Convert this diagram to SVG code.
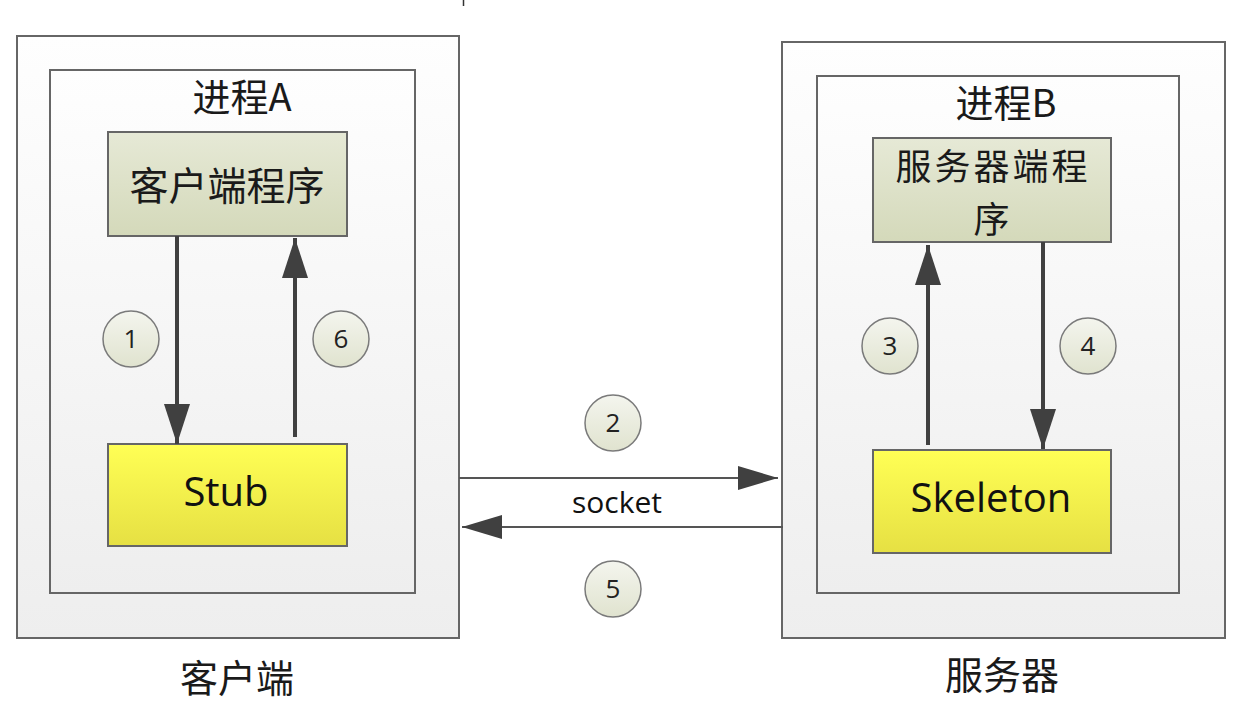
<svg xmlns="http://www.w3.org/2000/svg" width="1240" height="728" viewBox="0 0 1240 728">
<defs>
<linearGradient id="gBox" x1="0" y1="0" x2="0" y2="1"><stop offset="0" stop-color="#fefefe"/><stop offset="1" stop-color="#eeeeee"/></linearGradient>
<linearGradient id="gProg" x1="0" y1="0" x2="0" y2="1"><stop offset="0" stop-color="#e6e9d6"/><stop offset="1" stop-color="#d4d9ba"/></linearGradient>
<linearGradient id="gYel" x1="0" y1="0" x2="0" y2="1"><stop offset="0" stop-color="#ffff55"/><stop offset="1" stop-color="#e6e043"/></linearGradient>
<linearGradient id="gCir" x1="0" y1="0" x2="0" y2="1"><stop offset="0" stop-color="#f4f5ee"/><stop offset="1" stop-color="#e0e3cf"/></linearGradient>
<marker id="ah" viewBox="0 0 40 26" refX="40" refY="13" markerWidth="40" markerHeight="26" markerUnits="userSpaceOnUse" orient="auto"><path d="M0,0 L40,13 L0,26 Z" fill="#404040"/></marker>
<marker id="ahs" viewBox="0 0 40 24" refX="40" refY="12" markerWidth="40" markerHeight="24" markerUnits="userSpaceOnUse" orient="auto"><path d="M0,0 L40,12 L0,24 Z" fill="#404040"/></marker>
</defs>
<style>
.box{fill:url(#gBox);stroke:#666;stroke-width:2}
.prog{fill:url(#gProg);stroke:#666;stroke-width:2}
.yel{fill:url(#gYel);stroke:#666;stroke-width:2}
.cir{fill:url(#gCir);stroke:#7a7a7a;stroke-width:1.5}
.cjk{font-family:"Noto Sans CJK SC","Noto Sans",sans-serif;fill:#1a1a1a;text-anchor:middle;dominant-baseline:central}
.lat{font-family:"Open Sans","Noto Sans",sans-serif;fill:#111;text-anchor:middle}
.num{font-family:"Open Sans","Noto Sans",sans-serif;fill:#222;text-anchor:middle;font-size:26px}
.v{stroke:#404040;stroke-width:4;fill:none}
.h{stroke:#555;stroke-width:2.2;fill:none}
</style>
<rect width="1240" height="728" fill="#ffffff"/>
<line x1="463.5" y1="0" x2="463.5" y2="6" stroke="#333" stroke-width="1.5"/>

<g id="client">
<rect class="box" x="17" y="36" width="442" height="602"/>
<text class="cjk" x="237" y="675" font-size="38">客户端</text>
</g>
<g id="processA">
<rect class="box" x="50" y="70" width="365" height="523"/>
<text class="cjk" x="242" y="94" font-size="38">进程A</text>
</g>
<g id="clientProgram">
<rect class="prog" x="108" y="132" width="239" height="104"/>
<text class="cjk" x="227" y="183" font-size="39">客户端程序</text>
</g>
<g id="stub">
<rect class="yel" x="108" y="444" width="239" height="102"/>
<text class="lat" x="226" y="506" font-size="40">Stub</text>
</g>

<g id="server">
<rect class="box" x="782" y="42" width="443" height="596"/>
<text class="cjk" x="1002" y="672" font-size="38">服务器</text>
</g>
<g id="processB">
<rect class="box" x="817" y="76" width="362" height="517"/>
<text class="cjk" x="1006" y="100" font-size="38">进程B</text>
</g>
<g id="serverProgram">
<rect class="prog" x="873" y="138" width="238" height="104"/>
<text class="cjk" font-size="36" letter-spacing="3"><tspan x="993" y="164">服务器端程</tspan><tspan x="993" y="217">序</tspan></text>
</g>
<g id="skeleton">
<rect class="yel" x="873" y="450" width="238" height="103"/>
<text class="lat" x="991" y="512" font-size="40">Skeleton</text>
</g>

<g id="connectors">
<line class="v" x1="177" y1="236" x2="177" y2="444" marker-end="url(#ah)"/>
<line class="v" x1="295" y1="437" x2="295" y2="238" marker-end="url(#ah)"/>
<line class="v" x1="928" y1="445" x2="928" y2="245" marker-end="url(#ah)"/>
<line class="v" x1="1043" y1="242" x2="1043" y2="449" marker-end="url(#ah)"/>
<line class="h" x1="459" y1="478" x2="778" y2="478" marker-end="url(#ahs)"/>
<line class="h" x1="783" y1="527" x2="462" y2="527" marker-end="url(#ahs)"/>
<text class="lat" x="617" y="513" font-size="30">socket</text>
</g>

<g id="step1"><circle class="cir" cx="131" cy="339" r="28"/><text class="num" x="131" y="348">1</text></g>
<g id="step6"><circle class="cir" cx="341" cy="339" r="28"/><text class="num" x="341" y="348">6</text></g>
<g id="step2"><circle class="cir" cx="613" cy="423" r="28"/><text class="num" x="613" y="432">2</text></g>
<g id="step5"><circle class="cir" cx="613" cy="589" r="28"/><text class="num" x="613" y="598">5</text></g>
<g id="step3"><circle class="cir" cx="890" cy="346" r="28"/><text class="num" x="890" y="355">3</text></g>
<g id="step4"><circle class="cir" cx="1088" cy="346" r="28"/><text class="num" x="1088" y="355">4</text></g>
</svg>
